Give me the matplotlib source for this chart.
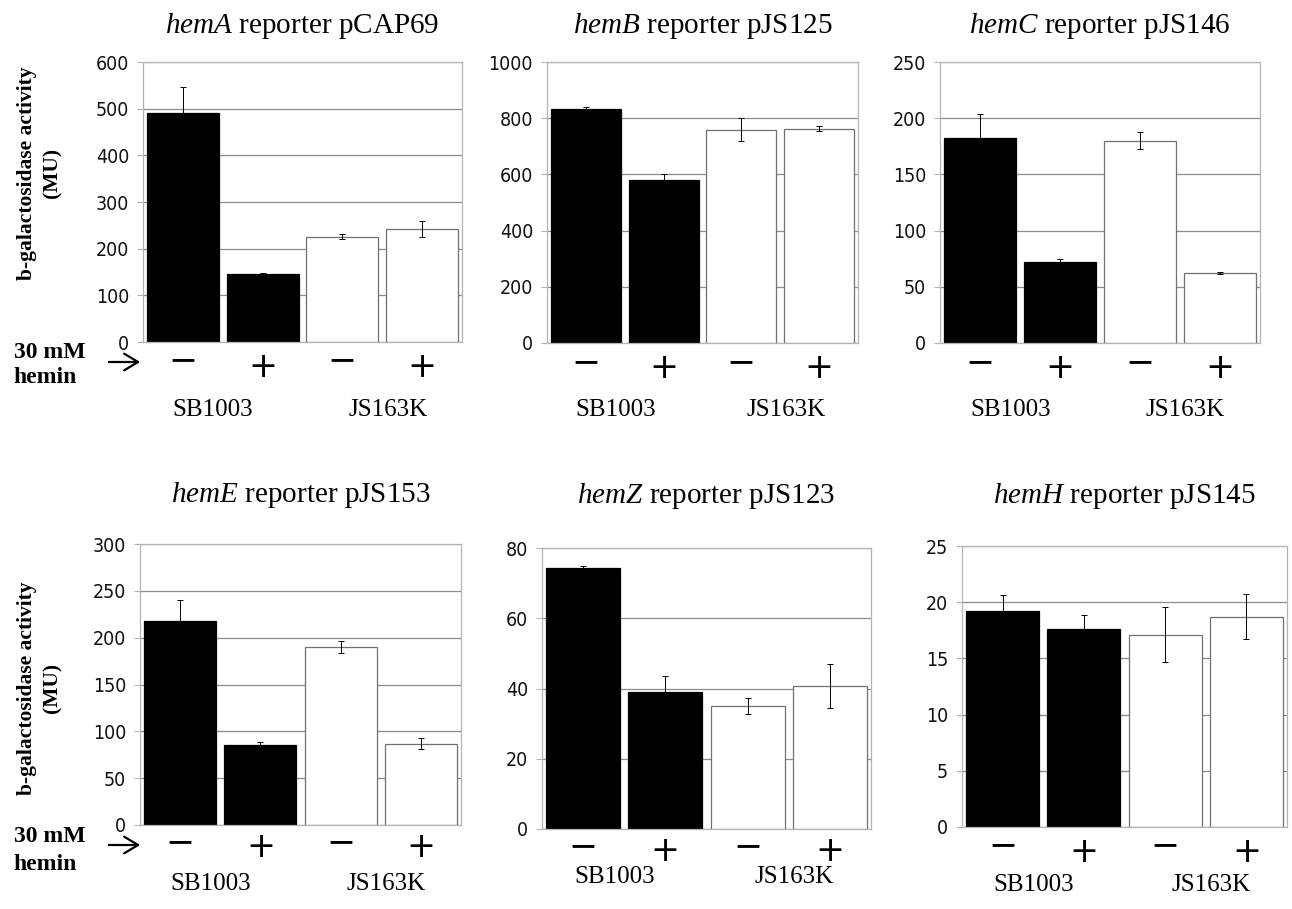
import matplotlib
matplotlib.use("Agg")
import matplotlib.pyplot as plt
import matplotlib.transforms as mtransforms
import numpy as np

# ---------------- data ----------------
genes = ["hemA", "hemB", "hemC", "hemE", "hemZ", "hemH"]
plasmids = ["pCAP69", "pJS125", "pJS146", "pJS153", "pJS123", "pJS145"]
hemin_signs = ["−", "+", "−", "+"]
strains = ["SB1003", "JS163K"]
bar_colors = ["black", "black", "white", "white"]

y_max = [600, 1000, 250, 300, 80, 25]
y_step = [100, 200, 50, 50, 20, 5]

hemA_vals = [491, 145, 226, 242]
hemA_err = [55, 3, 6, 17]
hemB_vals = [831, 580, 759, 763]
hemB_err = [9, 22, 41, 9]
hemC_vals = [182, 72, 180, 62]
hemC_err = [22, 3, 7.4, 1]
hemE_vals = [218, 85, 190, 87]
hemE_err = [22, 4, 6.5, 6]
hemZ_vals = [74.2, 38.9, 35.0, 40.7]
hemZ_err = [0.7, 4.6, 2.2, 6.2]
hemH_vals = [19.2, 17.6, 17.1, 18.7]
hemH_err = [1.4, 1.3, 2.45, 2.0]

values = [hemA_vals, hemB_vals, hemC_vals, hemE_vals, hemZ_vals, hemH_vals]
errors = [hemA_err, hemB_err, hemC_err, hemE_err, hemZ_err, hemH_err]

# ---------------- layout (pixels) ----------------
W, H = 1292, 909
axes_px = [(143, 62, 462, 342), (547, 62, 858, 343), (940, 62, 1260, 343),
           (140, 544, 461, 825), (542, 548, 871, 829), (962, 546, 1287, 827)]
title_base = [33, 33, 33, 502, 503, 503]
minus_y = [360, 362, 362, 842, 846, 845]
plus_y = [367, 368, 368, 847, 851, 852]
group_y = [410, 410, 410, 884, 877, 885]
group_x = [0.38, 2.57]

plt.rcParams["mathtext.fontset"] = "custom"
plt.rcParams["mathtext.it"] = "Liberation Serif:italic"
plt.rcParams["mathtext.rm"] = "Liberation Serif"

tick_font = ["DejaVu Sans"]
serif = "Liberation Serif"

fig = plt.figure(figsize=(W / 100, H / 100), dpi=100)


def fy(y):
    return 1 - y / H


grid_col = "#8c8c8c"
frame_col = "#b4b4b4"

for k in range(6):
    l, t, r, b = axes_px[k]
    ax = fig.add_axes([l / W, 1 - b / H, (r - l) / W, (b - t) / H])
    x = np.arange(4)
    ax.set_axisbelow(True)
    ax.yaxis.grid(True, color=grid_col, linewidth=0.9)
    ax.bar(x, values[k], width=0.9, color=bar_colors,
           edgecolor=["black", "black", "#707070", "#707070"], linewidth=0.9, zorder=2)
    ax.errorbar(x, values[k], yerr=errors[k], fmt="none", ecolor="black",
                elinewidth=0.7, capsize=2, capthick=0.7, zorder=3)
    ax.set_xlim(-0.5, 3.5)
    ax.set_ylim(0, y_max[k])
    ax.set_yticks(np.arange(0, y_max[k] + y_step[k] / 2, y_step[k]))
    ax.set_xticks([])
    for s in ax.spines.values():
        s.set_color(frame_col)
        s.set_linewidth(0.9)
    ax.tick_params(axis="y", length=4, width=0.8, color=frame_col, pad=6,
                   labelsize=14, labelcolor="#111111")
    for lab in ax.get_yticklabels():
        lab.set_family(tick_font)
        lab.set_stretch("condensed")

    tr_title = mtransforms.blended_transform_factory(ax.transAxes, fig.transFigure)
    ax.text(0.5, fy(title_base[k]), r"$\mathit{%s}$ reporter %s" % (genes[k], plasmids[k]),
            transform=tr_title, ha="center", va="baseline", fontsize=21, family=serif)

    tr = mtransforms.blended_transform_factory(ax.transData, fig.transFigure)
    for i, s in enumerate(hemin_signs):
        yy = plus_y[k] if s == "+" else minus_y[k]
        ax.text(i, fy(yy), s, transform=tr, ha="center", va="center",
                fontsize=25, family="DejaVu Sans")
    for gx, name in zip(group_x, strains):
        ax.text(gx, fy(group_y[k]), name, transform=tr, ha="center", va="center",
                fontsize=18, family=serif)

# y labels
for yc in [173, 688]:
    fig.text(40 / W, fy(yc), "b-galactosidase activity\n(MU)", rotation=90,
             ha="center", va="center", multialignment="center",
             fontsize=15.5, fontweight="bold", family=serif, linespacing=1.35)

# hemin labels and arrows
for (y1, y2, ya) in [(352, 378, 362), (837, 865, 845)]:
    fig.text(50 / W, fy(y1), "30 mM", ha="center", va="center",
             fontsize=17, fontweight="bold", family=serif)
    fig.text(45 / W, fy(y2), "hemin", ha="center", va="center",
             fontsize=17, fontweight="bold", family=serif)
    fig.add_artist(matplotlib.patches.FancyArrowPatch(
        (106 / W, fy(ya)), (143 / W, fy(ya)), transform=fig.transFigure,
        arrowstyle="->,head_length=5,head_width=3", color="black", lw=1.6,
        mutation_scale=2))

fig.savefig("out.png", dpi=100, facecolor="white")
